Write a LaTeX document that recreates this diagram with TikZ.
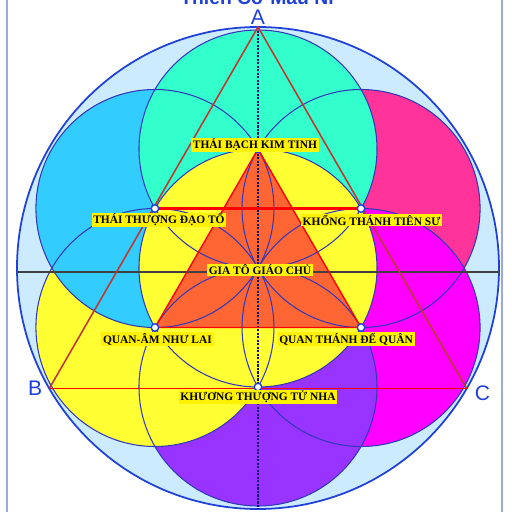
\documentclass[tikz,border=0pt]{standalone}
\usepackage{fontspec}
\setmainfont{Liberation Serif}
\setsansfont{Liberation Sans}
\usetikzlibrary{positioning,calc}

\definecolor{skyfill}{rgb}{0.80,0.92,1}
\definecolor{ringblue}{rgb}{0.12,0.25,0.85}
\definecolor{arcblue}{rgb}{0.2,0.22,0.72}
\definecolor{navydot}{rgb}{0.06,0.06,0.45}
\definecolor{tealc}{rgb}{0.2,1,0.8}
\definecolor{cyanc}{rgb}{0.2,0.8,1}
\definecolor{pinkc}{rgb}{1,0.2,0.6}
\definecolor{magc}{rgb}{1,0,1}
\definecolor{purc}{rgb}{0.6,0.2,1}
\definecolor{yelc}{rgb}{1,1,0.2}
\definecolor{orac}{rgb}{1,0.4,0.2}
\definecolor{darkred}{rgb}{0.75,0.22,0.2}
\definecolor{framec}{rgb}{0.6,0.67,0.85}

\tikzset{
  petal/.style={draw=arcblue,line width=0.6pt},
  lbl/.style={fill=yellow,inner xsep=1pt,inner ysep=0.6pt,
    font=\fontsize{6.5}{7}\selectfont\bfseries},
  vtx/.style={text=ringblue,inner sep=1pt,
    font=\sffamily\fontsize{12}{12}\selectfont},
  spot/.style={circle,draw=ringblue,fill=white,line width=0.8pt,
    inner sep=0pt,minimum size=0.15cm},
}

\begin{document}
\begin{tikzpicture}
\def\r{2.38}
\def\R{4.82}
\useasboundingbox (-5.16,-4.88) rectangle (5.08,5.36);
% points of the pattern
\coordinate (O) at (0,0);
\coordinate (T) at (90:\r);
\coordinate (UR) at (30:\r);
\coordinate (LR) at (-30:\r);
\coordinate (D) at (-90:\r);
\coordinate (LL) at (210:\r);
\coordinate (UL) at (150:\r);
\coordinate (A) at (90:\R);
\coordinate (B) at (210:\R);
\coordinate (C) at (330:\R);
\coordinate (S) at (-90:\R);
\coordinate (W) at (-4.82,-0.08);
\coordinate (E) at (4.82,-0.08);
\coordinate (F1) at (-5.02,5.36);
\coordinate (F2) at (-5.02,-4.88);
\coordinate (F3) at (4.88,5.36);
\coordinate (F4) at (4.88,-4.88);
% frame
\draw[framec,line width=0.6pt] (F1) -- (F2);
\draw[framec,line width=0.6pt] (F3) -- (F4);
% fills
\fill[skyfill] (O) circle (\R);
\fill[pinkc] (UR) circle (\r);
\fill[magc] (LR) circle (\r);
\fill[purc] (D) circle (\r);
\fill[yelc] (LL) circle (\r);
\fill[cyanc] (UL) circle (\r);
\fill[tealc] (T) circle (\r);
\fill[yelc] (O) circle (\r);
\fill[orac] (T) -- (LL) -- (LR) -- cycle;
% circles
\draw[petal] (UR) circle (\r);
\draw[petal] (LR) circle (\r);
\draw[petal] (D) circle (\r);
\draw[petal] (LL) circle (\r);
\draw[petal] (UL) circle (\r);
\draw[petal] (T) circle (\r);
\draw[petal] (O) circle (\r);
\draw[ringblue,line width=1pt] (O) circle (\R);
% lines
\draw[black!75,line width=0.8pt] (W) -- (E);
\draw[navydot,line width=1.6pt,dash pattern=on 1.2pt off 0.8pt] (A) -- (S);
\draw[darkred,line width=0.9pt] (B) -- (A) -- (C);
\draw[red,line width=0.8pt] (B) -- (C);
\draw[red,line width=0.8pt] (T) -- (LL) -- (LR) -- cycle;
\draw[red,line width=1.2pt] (UL) -- (UR);
% spots
\node[spot] (pT) at (T) {};
\node[spot] (pUR) at (UR) {};
\node[spot] (pLR) at (LR) {};
\node[spot] (pD) at (D) {};
\node[spot] (pLL) at (LL) {};
\node[spot] (pUL) at (UL) {};
\node[spot] (pO) at (O) {};
% names
\node[lbl] (nT) at ($(T)+(-0.06,0.08)$) {THÁI BẠCH KIM TINH};
\node[lbl] (nUL) at ($(UL)+(0.08,-0.23)$) {THÁI THƯỢNG ĐẠO TỔ};
\node[lbl] (nUR) at ($(UR)+(0.21,-0.23)$) {KHỔNG THÁNH TIÊN SƯ};
\node[lbl] (nO) at ($(O)+(0.04,-0.04)$) {GIA TÔ GIÁO CHỦ};
\node[lbl] (nLL) at ($(LL)+(0.05,-0.23)$) {QUAN-ÂM NHƯ LAI};
\node[lbl] (nLR) at ($(LR)+(-0.30,-0.23)$) {QUAN THÁNH ĐẾ QUÂN};
\node[lbl] (nD) at ($(D)+(0,-0.2)$) {KHƯƠNG THƯỢNG TỬ NHA};
% vertices and title
\node[vtx,above=0pt of A] (nA) {A};
\node[vtx,left=0.1 of B] (nB) {B};
\node[vtx,right=0.12 of C,yshift=-0.1cm] (nC) {C};
\node[text=ringblue,anchor=base,inner sep=0pt,
  font=\sffamily\bfseries\fontsize{11}{11}\selectfont] (ttl) at (-0.02,5.28) {Thiên Cơ Mầu Ni};
\end{tikzpicture}
\end{document}
